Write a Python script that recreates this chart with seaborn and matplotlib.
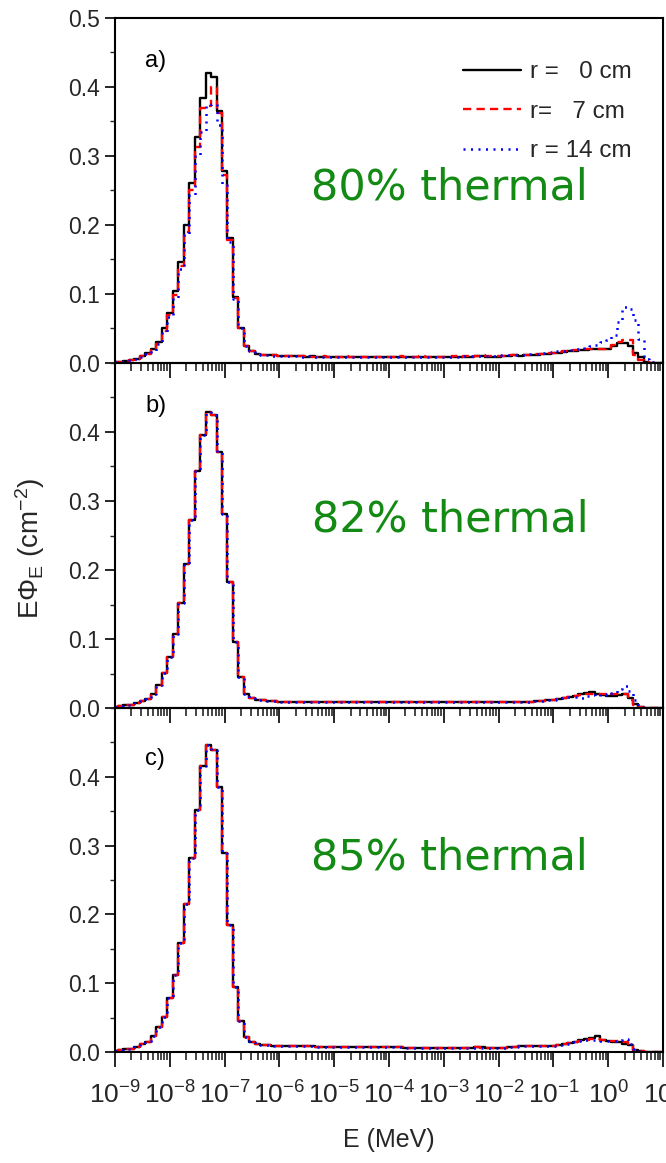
import numpy as np
import pandas as pd
import seaborn as sns
import matplotlib.pyplot as plt
import matplotlib.ticker as mticker

# energy grid: 10 points per decade, 1e-9 .. 10 MeV
energy = np.logspace(-9, 1, 101)

radii = ["r =   0 cm", "r=   7 cm", "r = 14 cm"]
panel_tags = ["a)", "b)", "c)"]
thermal_text = ["80% thermal", "82% thermal", "85% thermal"]

a_r0 = [0.001, 0.002, 0.003, 0.004, 0.006, 0.010, 0.014, 0.020, 0.030, 0.050,
        0.073, 0.105, 0.147, 0.200, 0.261, 0.328, 0.384, 0.420, 0.415, 0.365,
        0.278, 0.181, 0.096, 0.050, 0.025, 0.017, 0.013, 0.012, 0.011, 0.011,
        0.010, 0.010, 0.010, 0.010, 0.010, 0.009, 0.010, 0.009, 0.009, 0.009,
        0.009, 0.009, 0.009, 0.009, 0.009, 0.009, 0.009, 0.009, 0.009, 0.009,
        0.009, 0.009, 0.009, 0.009, 0.008, 0.008, 0.009, 0.009, 0.009, 0.009,
        0.009, 0.009, 0.009, 0.009, 0.009, 0.009, 0.010, 0.010, 0.009, 0.009,
        0.009, 0.010, 0.010, 0.011, 0.010, 0.011, 0.012, 0.012, 0.013, 0.013,
        0.014, 0.015, 0.016, 0.017, 0.018, 0.019, 0.019, 0.020, 0.020, 0.020,
        0.021, 0.024, 0.029, 0.029, 0.024, 0.014, 0.009, 0.002, 0.000, 0.000,
        0.000]
a_r7 = [0.001, 0.002, 0.003, 0.004, 0.006, 0.010, 0.013, 0.019, 0.028, 0.047,
        0.070, 0.098, 0.140, 0.190, 0.250, 0.313, 0.370, 0.372, 0.400, 0.362,
        0.272, 0.178, 0.094, 0.050, 0.025, 0.017, 0.013, 0.012, 0.011, 0.011,
        0.010, 0.010, 0.010, 0.010, 0.010, 0.010, 0.009, 0.009, 0.010, 0.009,
        0.009, 0.009, 0.010, 0.009, 0.009, 0.009, 0.009, 0.009, 0.009, 0.009,
        0.009, 0.009, 0.010, 0.009, 0.009, 0.009, 0.010, 0.009, 0.009, 0.009,
        0.009, 0.009, 0.010, 0.009, 0.010, 0.009, 0.010, 0.011, 0.010, 0.010,
        0.010, 0.010, 0.011, 0.011, 0.011, 0.012, 0.012, 0.013, 0.013, 0.014,
        0.015, 0.016, 0.017, 0.018, 0.019, 0.019, 0.020, 0.020, 0.020, 0.021,
        0.022, 0.026, 0.030, 0.033, 0.033, 0.012, 0.005, 0.001, 0.000, 0.000,
        0.000]
a_r14 = [0.001, 0.002, 0.003, 0.004, 0.006, 0.009, 0.013, 0.018, 0.027, 0.045,
         0.066, 0.094, 0.136, 0.185, 0.243, 0.300, 0.335, 0.372, 0.375, 0.345,
         0.258, 0.176, 0.093, 0.050, 0.025, 0.017, 0.013, 0.012, 0.011, 0.010,
         0.010, 0.010, 0.010, 0.010, 0.009, 0.010, 0.009, 0.009, 0.009, 0.009,
         0.009, 0.009, 0.009, 0.009, 0.009, 0.009, 0.009, 0.009, 0.009, 0.009,
         0.009, 0.009, 0.009, 0.009, 0.009, 0.009, 0.009, 0.009, 0.009, 0.009,
         0.009, 0.009, 0.009, 0.010, 0.010, 0.010, 0.010, 0.010, 0.010, 0.010,
         0.010, 0.011, 0.011, 0.011, 0.012, 0.012, 0.013, 0.013, 0.014, 0.015,
         0.016, 0.017, 0.018, 0.019, 0.020, 0.021, 0.023, 0.024, 0.026, 0.030,
         0.034, 0.040, 0.060, 0.081, 0.078, 0.062, 0.035, 0.006, 0.001, 0.000,
         0.000]

b_r0 = [0.002, 0.003, 0.004, 0.005, 0.007, 0.010, 0.013, 0.021, 0.033, 0.051,
        0.074, 0.107, 0.152, 0.208, 0.273, 0.343, 0.396, 0.429, 0.425, 0.371,
        0.281, 0.182, 0.096, 0.045, 0.021, 0.015, 0.012, 0.011, 0.010, 0.010,
        0.009, 0.009, 0.009, 0.009, 0.009, 0.009, 0.009, 0.008, 0.008, 0.008,
        0.008, 0.008, 0.008, 0.008, 0.008, 0.008, 0.008, 0.008, 0.008, 0.008,
        0.008, 0.008, 0.008, 0.008, 0.008, 0.008, 0.008, 0.008, 0.008, 0.008,
        0.008, 0.008, 0.008, 0.008, 0.008, 0.008, 0.009, 0.009, 0.008, 0.008,
        0.008, 0.008, 0.008, 0.009, 0.008, 0.008, 0.009, 0.010, 0.010, 0.011,
        0.012, 0.013, 0.015, 0.016, 0.018, 0.020, 0.022, 0.023, 0.021, 0.019,
        0.018, 0.018, 0.019, 0.020, 0.014, 0.006, 0.001, 0.000, 0.000, 0.000,
        0.000]
b_r7 = [0.002, 0.003, 0.004, 0.005, 0.007, 0.010, 0.013, 0.021, 0.033, 0.051,
        0.074, 0.107, 0.152, 0.208, 0.273, 0.343, 0.396, 0.429, 0.425, 0.371,
        0.281, 0.182, 0.096, 0.045, 0.021, 0.015, 0.012, 0.011, 0.010, 0.010,
        0.009, 0.009, 0.009, 0.009, 0.009, 0.009, 0.009, 0.008, 0.008, 0.008,
        0.008, 0.008, 0.008, 0.008, 0.008, 0.008, 0.008, 0.008, 0.008, 0.008,
        0.008, 0.008, 0.008, 0.008, 0.008, 0.008, 0.008, 0.008, 0.008, 0.008,
        0.008, 0.008, 0.008, 0.008, 0.008, 0.008, 0.009, 0.009, 0.008, 0.008,
        0.008, 0.008, 0.008, 0.009, 0.008, 0.008, 0.009, 0.010, 0.010, 0.011,
        0.012, 0.013, 0.014, 0.016, 0.018, 0.019, 0.021, 0.021, 0.021, 0.020,
        0.019, 0.020, 0.021, 0.020, 0.012, 0.005, 0.001, 0.000, 0.000, 0.000,
        0.000]
b_r14 = [0.002, 0.003, 0.004, 0.005, 0.007, 0.010, 0.013, 0.021, 0.033, 0.051,
         0.074, 0.107, 0.152, 0.208, 0.273, 0.343, 0.396, 0.429, 0.425, 0.371,
         0.281, 0.182, 0.096, 0.045, 0.021, 0.015, 0.012, 0.011, 0.010, 0.010,
         0.009, 0.009, 0.009, 0.009, 0.009, 0.009, 0.009, 0.008, 0.008, 0.008,
         0.008, 0.008, 0.008, 0.008, 0.008, 0.008, 0.008, 0.008, 0.008, 0.008,
         0.008, 0.008, 0.008, 0.008, 0.008, 0.008, 0.008, 0.008, 0.008, 0.008,
         0.008, 0.008, 0.008, 0.008, 0.008, 0.008, 0.009, 0.009, 0.008, 0.008,
         0.008, 0.008, 0.008, 0.009, 0.008, 0.008, 0.009, 0.010, 0.010, 0.011,
         0.012, 0.013, 0.014, 0.016, 0.016, 0.015, 0.017, 0.019, 0.018, 0.020,
         0.019, 0.022, 0.027, 0.032, 0.025, 0.011, 0.002, 0.000, 0.000, 0.000,
         0.000]

c_r0 = [0.002, 0.003, 0.004, 0.005, 0.007, 0.011, 0.014, 0.023, 0.036, 0.051,
        0.079, 0.112, 0.159, 0.215, 0.282, 0.352, 0.416, 0.446, 0.439, 0.385,
        0.289, 0.184, 0.095, 0.045, 0.022, 0.015, 0.011, 0.010, 0.010, 0.009,
        0.009, 0.008, 0.008, 0.008, 0.008, 0.008, 0.008, 0.007, 0.007, 0.007,
        0.007, 0.007, 0.007, 0.007, 0.007, 0.007, 0.007, 0.007, 0.007, 0.007,
        0.007, 0.007, 0.007, 0.006, 0.006, 0.006, 0.006, 0.006, 0.006, 0.006,
        0.006, 0.006, 0.006, 0.006, 0.006, 0.006, 0.007, 0.007, 0.006, 0.006,
        0.006, 0.006, 0.007, 0.007, 0.008, 0.008, 0.008, 0.008, 0.009, 0.009,
        0.009, 0.010, 0.011, 0.013, 0.015, 0.017, 0.019, 0.021, 0.023, 0.018,
        0.016, 0.015, 0.014, 0.012, 0.010, 0.003, 0.001, 0.000, 0.000, 0.000,
        0.000]
c_r7 = [0.002, 0.003, 0.004, 0.005, 0.007, 0.011, 0.014, 0.023, 0.036, 0.051,
        0.079, 0.112, 0.159, 0.215, 0.282, 0.352, 0.416, 0.446, 0.439, 0.385,
        0.289, 0.184, 0.095, 0.045, 0.022, 0.015, 0.011, 0.010, 0.010, 0.009,
        0.009, 0.008, 0.008, 0.008, 0.008, 0.008, 0.008, 0.007, 0.007, 0.007,
        0.007, 0.007, 0.007, 0.007, 0.007, 0.007, 0.007, 0.007, 0.007, 0.007,
        0.007, 0.007, 0.007, 0.006, 0.006, 0.006, 0.006, 0.006, 0.006, 0.006,
        0.006, 0.006, 0.006, 0.006, 0.006, 0.006, 0.007, 0.006, 0.006, 0.006,
        0.006, 0.006, 0.007, 0.007, 0.008, 0.008, 0.008, 0.008, 0.009, 0.009,
        0.009, 0.010, 0.011, 0.013, 0.014, 0.016, 0.018, 0.019, 0.019, 0.017,
        0.017, 0.016, 0.016, 0.015, 0.010, 0.003, 0.001, 0.000, 0.000, 0.000,
        0.000]
c_r14 = [0.002, 0.003, 0.004, 0.005, 0.007, 0.011, 0.014, 0.023, 0.036, 0.051,
         0.079, 0.112, 0.159, 0.215, 0.282, 0.352, 0.416, 0.446, 0.439, 0.385,
         0.289, 0.184, 0.095, 0.045, 0.022, 0.015, 0.011, 0.010, 0.010, 0.009,
         0.009, 0.008, 0.008, 0.008, 0.008, 0.008, 0.008, 0.007, 0.007, 0.007,
         0.007, 0.007, 0.007, 0.007, 0.007, 0.007, 0.007, 0.007, 0.007, 0.007,
         0.007, 0.007, 0.007, 0.006, 0.006, 0.006, 0.006, 0.006, 0.006, 0.006,
         0.006, 0.006, 0.006, 0.006, 0.006, 0.006, 0.006, 0.006, 0.006, 0.006,
         0.006, 0.006, 0.007, 0.007, 0.008, 0.008, 0.008, 0.008, 0.009, 0.009,
         0.009, 0.010, 0.011, 0.012, 0.014, 0.016, 0.017, 0.018, 0.017, 0.016,
         0.016, 0.016, 0.017, 0.019, 0.012, 0.004, 0.001, 0.000, 0.000, 0.000,
         0.000]

panels = [[a_r0, a_r7, a_r14], [b_r0, b_r7, b_r14], [c_r0, c_r7, c_r14]]

rows = []
for p, series in enumerate(panels):
    for r, vals in zip(radii, series):
        assert len(vals) == len(energy)
        for e, v in zip(energy, vals):
            rows.append({"panel": p, "r": r, "E": e, "flux": v})
df = pd.DataFrame(rows)

sns.set_theme(style="ticks")
plt.rcParams["font.family"] = ["Liberation Sans", "DejaVu Sans"]
plt.rcParams["mathtext.fontset"] = "custom"
plt.rcParams["mathtext.rm"] = "Liberation Sans"
plt.rcParams["mathtext.it"] = "Liberation Sans:italic"
plt.rcParams["mathtext.bf"] = "Liberation Sans:bold"

colors = {radii[0]: "black", radii[1]: "#ff0000", radii[2]: "#0000ff"}
styles = {radii[0]: "-", radii[1]: (0, (3.5, 2.2)), radii[2]: (0, (0.8, 2.2))}
widths = {radii[0]: 1.7, radii[1]: 1.7, radii[2]: 1.8}

fig = plt.figure(figsize=(6.66, 11.63), dpi=100)
W, H = 666, 1163
left, right = 115, 663
tops = [18, 363, 708]
bottoms = [363, 708, 1052]
text_y = [0.51, 0.545, 0.565]
tag_y = [0.875, 0.875, 0.852]

axes = []
for p in range(3):
    ax = fig.add_axes([left / W, 1 - bottoms[p] / H, (right - left) / W, (bottoms[p] - tops[p]) / H])
    ax.patch.set_visible(False)
    sub = df[df["panel"] == p]
    for r in radii:
        sns.lineplot(data=sub[sub["r"] == r], x="E", y="flux", ax=ax, color=colors[r],
                     linestyle=styles[r], lw=widths[r], drawstyle="steps-mid",
                     label=r, errorbar=None, sort=True)
    ax.set_xscale("log")
    ax.set_xlim(1e-9, 10)
    ax.set_ylim(0, 0.5)
    if p == 0:
        ax.yaxis.set_major_locator(mticker.FixedLocator([0, 0.1, 0.2, 0.3, 0.4, 0.5]))
    else:
        ax.yaxis.set_major_locator(mticker.FixedLocator([0, 0.1, 0.2, 0.3, 0.4]))
    ax.yaxis.set_major_formatter(mticker.FormatStrFormatter("%.1f"))
    ax.yaxis.set_minor_locator(mticker.MultipleLocator(0.05))
    ax.xaxis.set_major_locator(mticker.LogLocator(base=10, numticks=20))
    ax.xaxis.set_minor_locator(mticker.LogLocator(base=10, subs=np.arange(2, 10), numticks=20))
    ax.xaxis.set_minor_formatter(mticker.NullFormatter())
    ax.tick_params(axis="x", which="major", direction="out", length=10.5, width=1.4,
                   labelsize=19, pad=11, top=False)
    ax.tick_params(axis="x", which="minor", direction="out", length=5.5, width=1.2, top=False)
    ax.tick_params(axis="y", which="major", direction="out", length=7, width=1.4,
                   labelsize=16.5, pad=4, right=False)
    ax.tick_params(axis="y", which="minor", direction="out", length=3.5, width=1.0, right=False)
    if p < 2:
        ax.tick_params(axis="x", which="both", labelbottom=False)
    for s in ax.spines.values():
        s.set_visible(True)
        s.set_linewidth(1.5)
        s.set_color("black")
    ax.set_xlabel("")
    ax.set_ylabel("")
    ax.text(0.055, tag_y[p], panel_tags[p], transform=ax.transAxes, fontsize=17,
            ha="left", va="center", color="black")
    ax.text(0.611, text_y[p], thermal_text[p], transform=ax.transAxes, fontsize=31,
            ha="center", va="center", color="#138a13", family="DejaVu Sans")
    if p == 0:
        ax.legend(loc="upper left", bbox_to_anchor=(0.635, 0.875), frameon=False,
                  fontsize=17.5, handlelength=2.4, handletextpad=0.35, labelspacing=0.72,
                  borderpad=0, borderaxespad=0)
    else:
        ax.get_legend().remove()
    axes.append(ax)

fig.text(30 / W, 1 - 548 / H, r"E$\Phi_{\mathrm{E}}$ (cm$^{-2}$)", rotation=90,
         ha="center", va="center", fontsize=20)
fig.text(389 / W, 1 - 1140 / H, "E (MeV)", ha="center", va="center", fontsize=18)

fig.savefig("out.png", dpi=100, facecolor="white")
